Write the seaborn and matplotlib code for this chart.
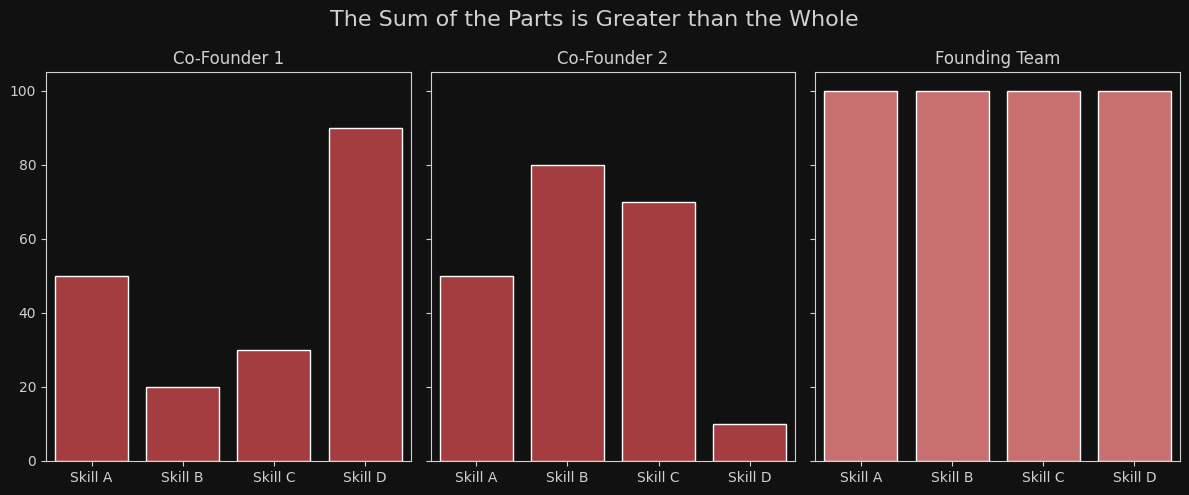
import matplotlib
matplotlib.use('Agg')
import matplotlib.pyplot as plt
import seaborn as sns
import pandas as pd

skills = ['Skill A', 'Skill B', 'Skill C', 'Skill D']
cofounder1 = [50, 20, 30, 90]
cofounder2 = [50, 80, 70, 10]
team = [100, 100, 100, 100]

titles = ['Co-Founder 1', 'Co-Founder 2', 'Founding Team']
series = [cofounder1, cofounder2, team]
colors = ['#a33d3f', '#a33d3f', '#c87070']

bg = '#111111'
fg = '#d0d0d0'
sns.set_style('dark')
plt.rcParams.update({
    'figure.facecolor': bg, 'axes.facecolor': bg, 'axes.edgecolor': fg,
    'text.color': fg, 'xtick.color': fg, 'ytick.color': fg,
    'axes.labelcolor': fg, 'xtick.bottom': True, 'ytick.left': True,
})
plt.rcParams['font.family'] = ['DejaVu Sans']

fig, axes = plt.subplots(1, 3, figsize=(11.89, 4.95), dpi=100, sharey=True)
fig.subplots_adjust(left=0.0387, right=0.9924, top=0.8545, bottom=0.0687, wspace=0.055)

for ax, title, vals, c in zip(axes, titles, series, colors):
    df = pd.DataFrame({'skill': skills, 'value': vals})
    sns.barplot(data=df, x='skill', y='value', color=c, saturation=1, width=0.8, ax=ax)
    ax.set_title(title, fontsize=12, color=fg)
    ax.set_xlabel('')
    ax.set_ylabel('')
    ax.set_ylim(0, 105)
    ax.grid(False)
    for s in ax.spines.values():
        s.set_color(fg)
        s.set_linewidth(0.8)
    ax.tick_params(colors=fg, labelsize=10)

fig.suptitle('The Sum of the Parts is Greater than the Whole', fontsize=16, color=fg, y=0.98)
fig.savefig('out.png', dpi=100, facecolor=bg)
